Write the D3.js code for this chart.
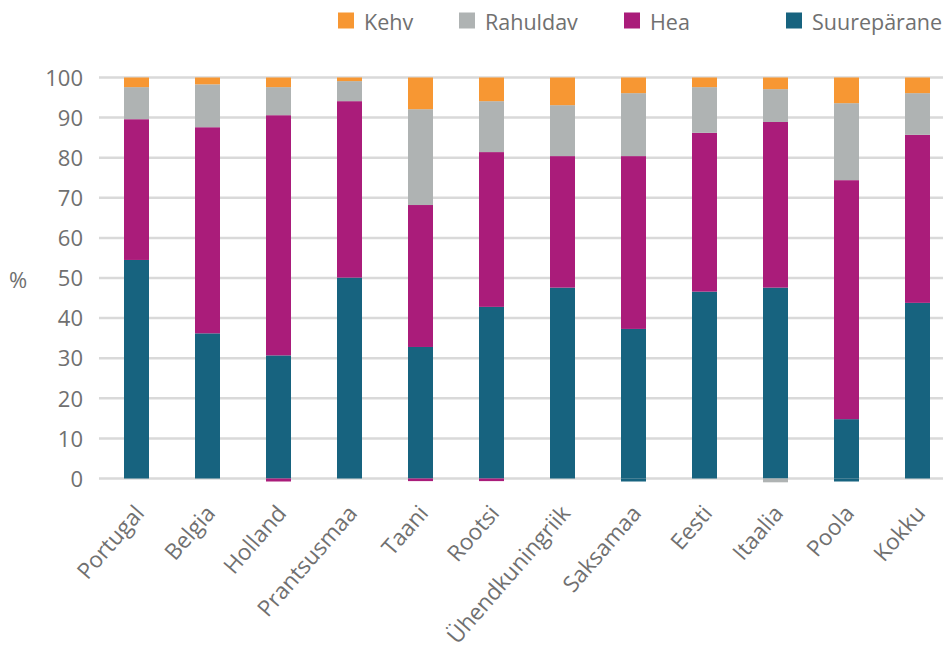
<!DOCTYPE html>
<html><head><meta charset="utf-8">
<script src="https://cdn.jsdelivr.net/npm/d3@7"></script>
<style>body{margin:0;background:#fff}svg{display:block}text{font-family:"Open Sans",sans-serif;fill:#707070}</style>
</head><body>
<svg id="c" width="945" height="649"></svg>
<script>
const categories = ["Portugal","Belgia","Holland","Prantsusmaa","Taani","Rootsi","Ühendkuningriik","Saksamaa","Eesti","Itaalia","Poola","Kokku"];
const suureparane = [54.5,36.2,30.7,50.1,32.8,42.8,47.6,37.3,46.6,47.6,14.8,43.8];
const hea        = [35.1,51.4,59.9,44.0,35.4,38.6,32.8,43.1,39.6,41.3,59.6,41.9];
const rahuldav   = [ 8.0,10.7, 7.0, 5.0,23.9,12.7,12.7,15.7,11.4, 8.2,19.2,10.4];
const kehv       = [ 2.4, 1.7, 2.4, 0.9, 7.9, 5.9, 6.9, 3.9, 2.4, 2.9, 6.4, 3.9];
// small negative remainders shown below zero
const alla0Series = ["","","hea","","hea","hea","","suureparane","","rahuldav","suureparane",""];
const alla0Value  = [0,0,-0.5,0,-0.4,-0.4,0,-0.5,0,-0.7,-0.5,0];
const yTicks = [0,10,20,30,40,50,60,70,80,90,100];
const seriesKeys = ["suureparane","hea","rahuldav","kehv"];
const legendNames = ["Kehv","Rahuldav","Hea","Suurepärane"];
const colors = {suureparane:"#17637f", hea:"#aa1c7a", rahuldav:"#afb3b3", kehv:"#f79733"};

const table = categories.map((c,i)=>({cat:c, suureparane:suureparane[i], hea:hea[i], rahuldav:rahuldav[i], kehv:kehv[i]}));
const svg = d3.select("#c");
const x = d3.scaleBand().domain(categories).range([101,953]).paddingInner(0.648).paddingOuter(0.324);
const y = d3.scaleLinear().domain([0,100]).range([478.5,77.5]);

// gridlines
svg.append("g").selectAll("line").data(yTicks).join("line")
  .attr("x1",99).attr("x2",943).attr("y1",d=>y(d)).attr("y2",d=>y(d))
  .attr("stroke","#d9d9d9").attr("stroke-width",2.5);

// y axis labels
const yAxis = d3.axisLeft(y).tickValues(yTicks).tickSize(0).tickPadding(0);
const ga = svg.append("g").attr("transform","translate(83,0)").call(yAxis);
ga.select(".domain").remove();
ga.selectAll("text").attr("font-size",22).attr("fill","#707070").attr("font-family","Open Sans, sans-serif").attr("dy","0.35em");

svg.append("text").attr("x",18).attr("y",282).attr("text-anchor","middle").attr("dominant-baseline","middle").attr("font-size",22).text("%");

// stacks
const stack = d3.stack().keys(seriesKeys)(table);
svg.append("g").selectAll("g").data(stack).join("g").attr("fill",d=>colors[d.key])
  .selectAll("rect").data(d=>d).join("rect")
  .attr("x",d=>x(d.data.cat)).attr("width",x.bandwidth())
  .attr("y",d=>y(d[1])).attr("height",d=>y(d[0])-y(d[1]));

// below-zero slivers
svg.append("g").selectAll("rect").data(categories.map((c,i)=>({c,s:alla0Series[i],v:alla0Value[i]})).filter(d=>d.v<0)).join("rect")
  .attr("x",d=>x(d.c)).attr("width",x.bandwidth())
  .attr("y",y(0)).attr("height",d=>y(d.v)-y(0)+1)
  .attr("fill",d=>colors[d.s]);

// x labels
svg.append("g").selectAll("text").data(categories).join("text")
  .attr("transform",d=>`translate(${x(d)+x.bandwidth()/2+9},${514}) rotate(-49)`)
  .attr("text-anchor","end").attr("font-size",22.5).text(d=>d);

// legend
const legendX = [338,459,624,786];
const legendKeys = ["kehv","rahuldav","hea","suureparane"];
const lg = svg.append("g").selectAll("g").data(legendNames).join("g").attr("transform",(d,i)=>`translate(${legendX[i]},0)`);
lg.append("rect").attr("x",0).attr("y",12.5).attr("width",16).attr("height",16).attr("fill",(d,i)=>colors[legendKeys[i]]);
lg.append("text").attr("x",26).attr("y",30).attr("font-size",21.5).text(d=>d);
</script>
</body></html>
